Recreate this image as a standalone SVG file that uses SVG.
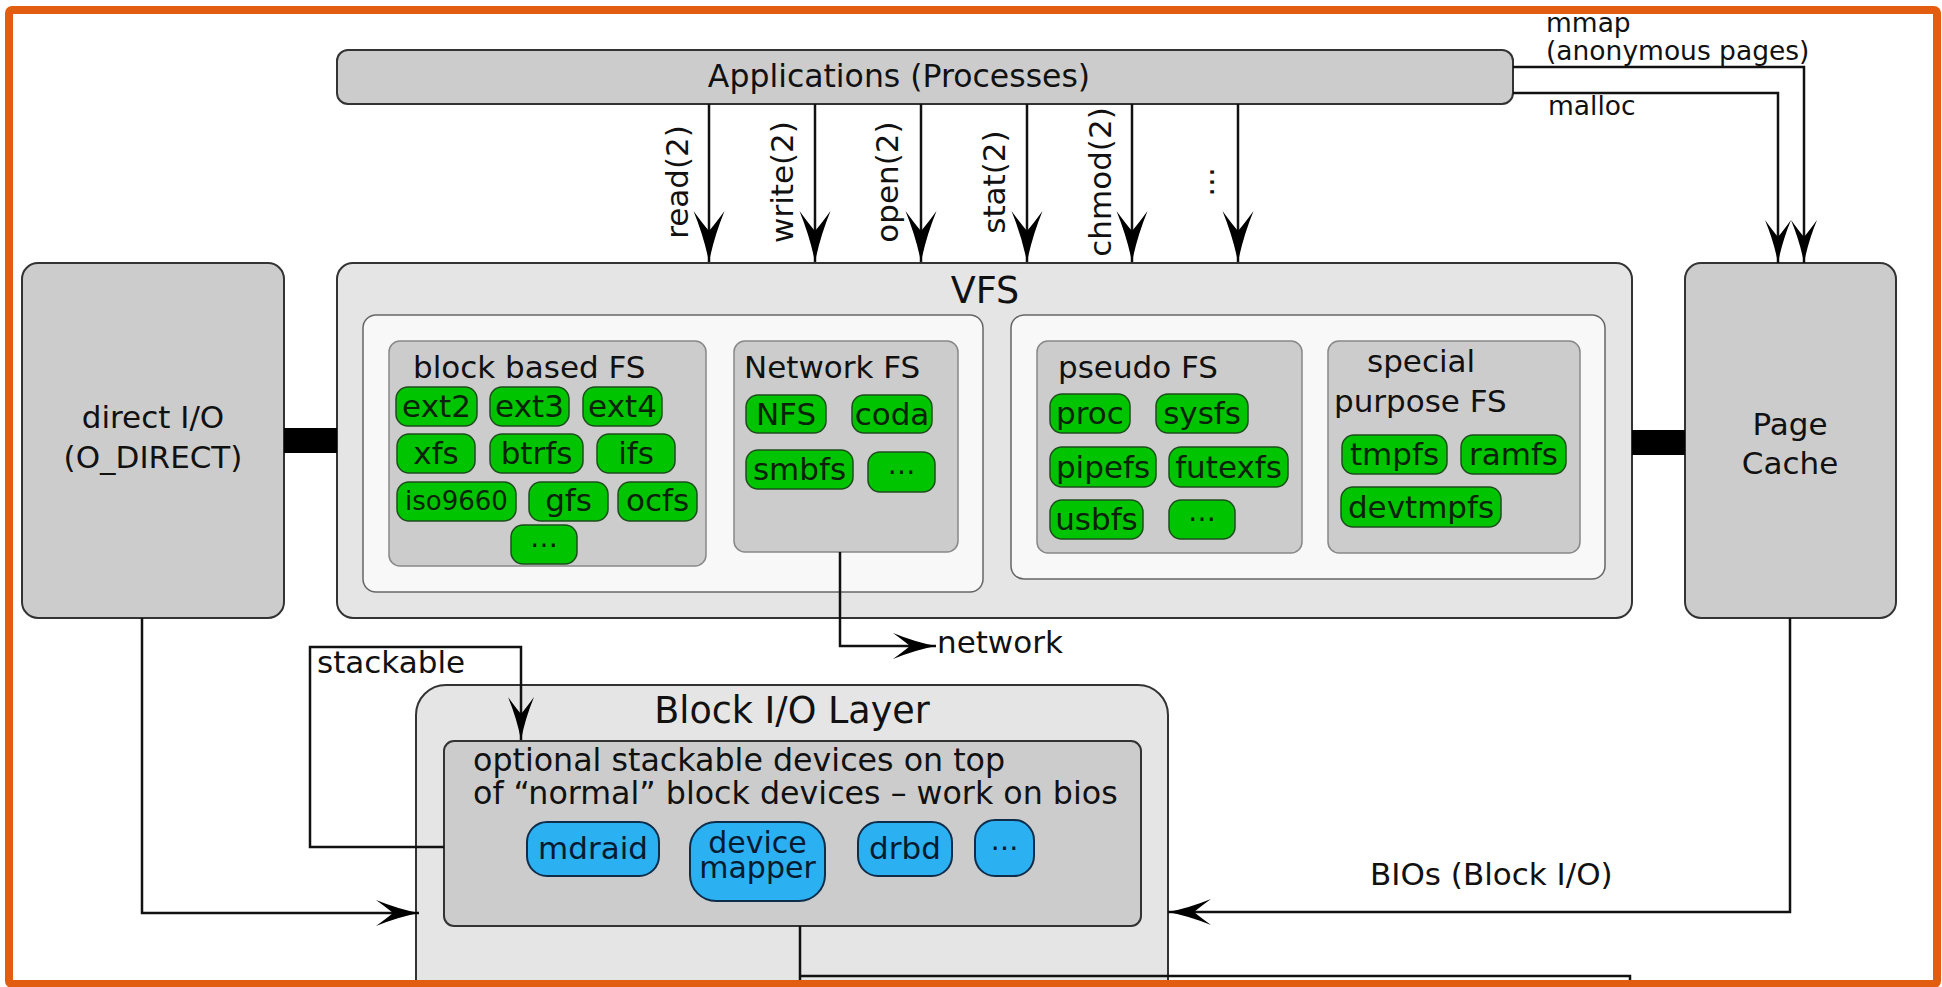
<svg xmlns="http://www.w3.org/2000/svg" width="1942" height="987" viewBox="0 0 1942 987">
<defs>
<style>
text{font-family:"DejaVu Sans","Liberation Sans",sans-serif;fill:#111;font-size:31px}
.c{text-anchor:middle}
.title{font-size:36.5px}
.small{font-size:26.5px}
.box{fill:#cccccc;stroke:#333;stroke-width:2}
.lt{fill:#e5e5e5;stroke:#333;stroke-width:2}
.wh{fill:#f8f8f8;stroke:#666;stroke-width:1.5}
.gr{fill:#cccccc;stroke:#888;stroke-width:1.5}
.g{fill:#00c400;stroke:#1d4d1d;stroke-width:1.5}
.b{fill:#2bb0f2;stroke:#0d2d4a;stroke-width:2}
.gt{fill:#0a220a;text-anchor:middle}
.bt{fill:#061a30;text-anchor:middle}
.dots{font-size:28px}
.ln{fill:none;stroke:#111;stroke-width:2.5}
.big{marker-end:url(#aL)}
.med{marker-end:url(#aM)}
.bar{fill:#000}
</style>
<marker id="aL" markerUnits="userSpaceOnUse" orient="auto" overflow="visible" markerWidth="60" markerHeight="40">
<path d="M0,0 Q-25,-5 -51,-15.5 Q-38,-6 -31,0 Q-38,6 -51,15.5 Q-25,5 0,0Z" fill="#000"/>
</marker>
<marker id="aM" markerUnits="userSpaceOnUse" orient="auto" overflow="visible" markerWidth="50" markerHeight="30">
<path d="M0,0 Q-21,-4 -43,-13 Q-32,-5 -26,0 Q-32,5 -43,13 Q-21,4 0,0Z" fill="#000"/>
</marker>
</defs>
<rect x="0" y="0" width="1942" height="987" fill="#fff"/>

<g id="applications">
<rect class="box" x="337" y="50" width="1176" height="54" rx="11"/>
<text class="c" x="899" y="87" style="font-size:31.5px">Applications (Processes)</text>
</g>

<g id="direct-io">
<rect class="box" x="22" y="263" width="262" height="355" rx="16"/>
<text class="c" x="153" y="428">direct I/O</text>
<text class="c" x="153" y="468">(O_DIRECT)</text>
</g>

<g id="page-cache">
<rect class="box" x="1685" y="263" width="211" height="355" rx="16"/>
<text class="c" x="1790" y="435">Page</text>
<text class="c" x="1790" y="474">Cache</text>
</g>

<g id="vfs">
<rect class="lt" x="337" y="263" width="1295" height="355" rx="16"/>
<text class="c title" x="985" y="303">VFS</text>
<rect class="wh" x="363" y="315" width="620" height="277" rx="13"/>
<rect class="wh" x="1011" y="315" width="594" height="264" rx="13"/>
</g>

<g id="block-based-fs">
<rect class="gr" x="389" y="341" width="317" height="225" rx="11"/>
<text x="413" y="378">block based FS</text>
<rect class="g" x="396" y="387" width="81" height="39" rx="12"/><text class="gt" x="436.5" y="417">ext2</text>
<rect class="g" x="490" y="387" width="79" height="39" rx="12"/><text class="gt" x="529.5" y="417">ext3</text>
<rect class="g" x="583" y="387" width="79" height="39" rx="12"/><text class="gt" x="622.5" y="417">ext4</text>
<rect class="g" x="397" y="434" width="78" height="39" rx="12"/><text class="gt" x="436" y="464">xfs</text>
<rect class="g" x="490" y="434" width="93" height="39" rx="12"/><text class="gt" x="536.5" y="464">btrfs</text>
<rect class="g" x="597" y="434" width="78" height="39" rx="12"/><text class="gt" x="636" y="464">ifs</text>
<rect class="g" x="397" y="482" width="119" height="39" rx="12"/><text class="gt" x="456.5" y="510" style="font-size:26px">iso9660</text>
<rect class="g" x="529" y="482" width="79" height="39" rx="12"/><text class="gt" x="568.5" y="511">gfs</text>
<rect class="g" x="618" y="482" width="79" height="39" rx="12"/><text class="gt" x="657.5" y="511">ocfs</text>
<rect class="g" x="511" y="525" width="66" height="39" rx="12"/><text class="gt dots" x="544" y="547">…</text>
</g>

<g id="network-fs">
<rect class="gr" x="734" y="341" width="224" height="211" rx="11"/>
<text x="744" y="378">Network FS</text>
<rect class="g" x="746" y="395" width="80" height="38" rx="12"/><text class="gt" x="786" y="425">NFS</text>
<rect class="g" x="852" y="395" width="80" height="38" rx="12"/><text class="gt" x="892" y="425">coda</text>
<rect class="g" x="746" y="450" width="107" height="39" rx="12"/><text class="gt" x="799.5" y="480">smbfs</text>
<rect class="g" x="868" y="452" width="67" height="40" rx="12"/><text class="gt dots" x="901.5" y="474">…</text>
</g>

<g id="pseudo-fs">
<rect class="gr" x="1037" y="341" width="265" height="212" rx="11"/>
<text x="1058" y="378">pseudo FS</text>
<rect class="g" x="1050" y="394" width="80" height="39" rx="12"/><text class="gt" x="1090" y="424">proc</text>
<rect class="g" x="1156" y="394" width="92" height="39" rx="12"/><text class="gt" x="1202" y="424">sysfs</text>
<rect class="g" x="1050" y="447" width="106" height="40" rx="12"/><text class="gt" x="1103" y="478">pipefs</text>
<rect class="g" x="1169" y="447" width="119" height="40" rx="12"/><text class="gt" x="1228.5" y="478">futexfs</text>
<rect class="g" x="1050" y="500" width="93" height="39" rx="12"/><text class="gt" x="1096.5" y="530">usbfs</text>
<rect class="g" x="1169" y="500" width="66" height="39" rx="12"/><text class="gt dots" x="1202" y="521">…</text>
</g>

<g id="special-fs">
<rect class="gr" x="1328" y="341" width="252" height="212" rx="11"/>
<text x="1367" y="372">special</text>
<text x="1334" y="412">purpose FS</text>
<rect class="g" x="1342" y="435" width="105" height="39" rx="12"/><text class="gt" x="1394.5" y="465">tmpfs</text>
<rect class="g" x="1461" y="435" width="105" height="39" rx="12"/><text class="gt" x="1513.5" y="465">ramfs</text>
<rect class="g" x="1341" y="487" width="160" height="40" rx="12"/><text class="gt" x="1421" y="518">devtmpfs</text>
</g>

<g id="block-io-layer">
<rect class="lt" x="416" y="685" width="752" height="360" rx="30"/>
<text class="c title" x="792" y="723">Block I/O Layer</text>
</g>

<g id="stackable-devices">
<rect class="box" x="444" y="741" width="697" height="185" rx="10"/>
<text x="473" y="771" style="font-size:31.7px">optional stackable devices on top</text>
<text x="473" y="804" style="font-size:31.7px">of “normal” block devices – work on bios</text>
<rect class="b" x="527" y="822" width="132" height="54" rx="20"/><text class="bt" x="593" y="859">mdraid</text>
<rect class="b" x="690" y="822" width="135" height="79" rx="26"/><text class="bt" x="757.5" y="853" style="font-size:30px">device</text><text class="bt" x="757.5" y="878" style="font-size:30px">mapper</text>
<rect class="b" x="858" y="822" width="94" height="54" rx="20"/><text class="bt" x="905" y="859">drbd</text>
<rect class="b" x="975" y="820" width="59" height="56" rx="20"/><text class="bt dots" x="1004.5" y="850">…</text>
</g>

<g id="connectors">
<rect class="bar" x="284" y="428" width="53" height="25"/>
<rect class="bar" x="1632" y="430" width="53" height="25"/>
<path class="ln big" d="M709,104 V262"/>
<path class="ln big" d="M815,104 V262"/>
<path class="ln big" d="M921,104 V262"/>
<path class="ln big" d="M1027,104 V262"/>
<path class="ln big" d="M1132,104 V262"/>
<path class="ln big" d="M1238,104 V262"/>
<path class="ln med" d="M1513,67 H1804 V263"/>
<path class="ln med" d="M1513,93 H1778 V263"/>
<path class="ln med" d="M840,552 V646 H936"/>
<path class="ln med" d="M142,618 V913 H419"/>
<path class="ln med" d="M1790,618 V912 H1168"/>
<path class="ln med" d="M444,847 H310 V647 H521 V740"/>
<path class="ln" d="M800,926 V987 M800,976 H1630 V987"/>
</g>

<g id="labels">
<text class="c" transform="translate(688,182) rotate(-90)">read(2)</text>
<text class="c" transform="translate(793,182) rotate(-90)">write(2)</text>
<text class="c" transform="translate(898,182) rotate(-90)">open(2)</text>
<text class="c" transform="translate(1005,182) rotate(-90)">stat(2)</text>
<text class="c" transform="translate(1111,182) rotate(-90)">chmod(2)</text>
<text class="c" transform="translate(1214,182) rotate(-90)">...</text>
<text class="small" x="1546" y="32">mmap</text>
<text class="small" x="1546" y="60">(anonymous pages)</text>
<text class="small" x="1548" y="115">malloc</text>
<text x="937" y="653">network</text>
<text x="317" y="673">stackable</text>
<text x="1370" y="885">BIOs (Block I/O)</text>
</g>

<rect id="frame" x="9" y="10" width="1928" height="974" rx="3" fill="none" stroke="#e35d10" stroke-width="8"/>
</svg>
